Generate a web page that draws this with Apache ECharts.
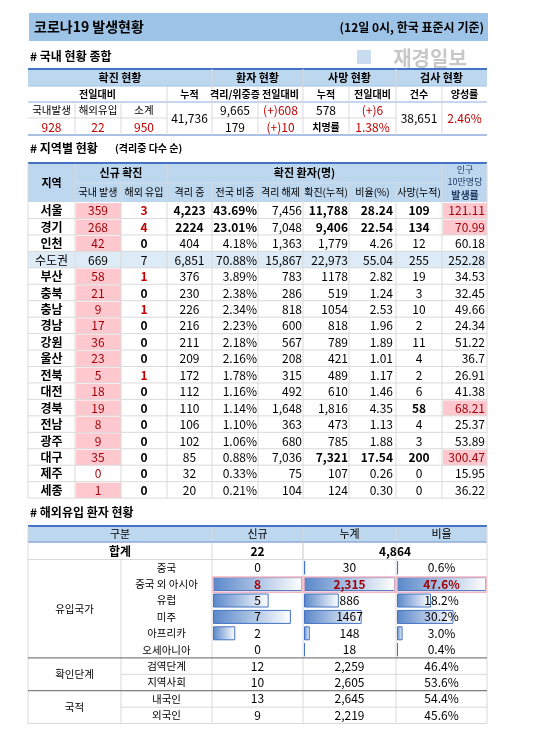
<!DOCTYPE html>
<html><head><meta charset="utf-8">
<script src="https://cdn.jsdelivr.net/npm/echarts@6/dist/echarts.min.js"></script>
<style>html,body{margin:0;padding:0;background:#fff}#c{width:548px;height:735px}</style>
</head><body><div id="c"></div>
<script>
// ---- Table 1 data ----
const t1Labels = ['국내발생','해외유입','소계'];
const t1New = ['928','22','950'];
const t1Total = '41,736';
const t1Iso = ['9,665','179'];
const t1IsoDelta = ['(+)608','(+)10'];
const t1Deaths = '578', t1DeathDelta = '(+)6', t1Fatal = '1.38%';
const t1Tests = '38,651', t1Positive = '2.46%';
// ---- Table 2 data ----
const regions = ['서울','경기','인천','수도권','부산','충북','충남','경남','강원','울산','전북','대전','경북','전남','광주','대구','제주','세종'];
const newDomestic = [359,268,42,669,58,21,9,17,36,23,5,18,19,8,9,35,0,1];
const newImported = [3,4,0,7,1,0,1,0,0,0,1,0,0,0,0,0,0,0];
const isolating = ['4,223','2224','404','6,851','376','230','226','216','211','209','172','112','110','106','102','85','32','20'];
const shareNat = ['43.69%','23.01%','4.18%','70.88%','3.89%','2.38%','2.34%','2.23%','2.18%','2.16%','1.78%','1.16%','1.14%','1.10%','1.06%','0.88%','0.33%','0.21%'];
const released = ['7,456','7,048','1,363','15,867','783','286','818','600','567','208','315','492','1,648','363','680','7,036','75','104'];
const cumulative = ['11,788','9,406','1,779','22,973','1178','519','1054','818','789','421','489','610','1,816','473','785','7,321','107','124'];
const ratioPct = ['28.24','22.54','4.26','55.04','2.82','1.24','2.53','1.96','1.89','1.01','1.17','1.46','4.35','1.13','1.88','17.54','0.26','0.30'];
const deathsCum = ['109','134','12','255','19','3','10','2','11','4','2','6','58','4','3','200','0','0'];
const per100k = ['121.11','70.99','60.18','252.28','34.53','32.45','49.66','24.34','51.22','36.7','26.91','41.38','68.21','25.37','53.89','300.47','15.95','36.22'];
const per100kHi = [true,true,false,false,false,false,false,false,false,false,false,false,true,false,false,true,false,false];
// ---- Table 3 data ----
const groups = ['유입국가','확인단계','국적'];
const groupSizes = [6,2,2];
const importCats = ['중국','중국 외 아시아','유럽','미주','아프리카','오세아니아','검역단계','지역사회','내국인','외국인'];
const importNew = [0,8,5,7,2,0,12,10,13,9];
const importCumLabels = ['30','2,315','886','1467','148','18','2,259','2,605','2,645','2,219'];
const importCum = [30,2315,886,1467,148,18,2259,2605,2645,2219];
const importRatio = [0.6,47.6,18.2,30.2,3.0,0.4,46.4,53.6,54.4,45.6];
const importTotalNew = '22', importTotalCum = '4,864';

const F = "'Noto Sans CJK KR','Noto Sans',sans-serif";
const G = [];
const BLUE='#bdd7ee', LINE='#d9d9d9', DARK='#4472c4', RED='#c00000', PINKBG='#ffc7ce', PINKTX='#9c0006';
function rect(x,y,w,h,fill,z){G.push({type:'rect',z:z||1,shape:{x,y,width:w,height:h},style:{fill}});}
function brect(x,y,w,h,stroke,lw,z){G.push({type:'rect',z:z||60,shape:{x,y,width:w,height:h},style:{fill:null,stroke,lineWidth:lw}});}
function line(x1,y1,x2,y2,c,w,z){G.push({type:'line',z:z||50,shape:{x1,y1,x2,y2},style:{stroke:c,lineWidth:w||1}});}
function text(x,y,s,o){o=o||{};G.push({type:'text',z:100,x,y,style:{text:s,fill:o.color||'#000',font:(o.bold?'bold ':'')+(o.size||11)+'px '+F,textAlign:o.align||'center',textVerticalAlign:'middle'}});}

// Title
rect(29,13,459,28,'#9dc3e6');
text(34,27,'코로나19 발생현황',{bold:true,size:14,align:'left'});
text(484,27,'(12일 0시, 한국 표준시 기준)',{bold:true,size:12,align:'right'});
text(30,56,'# 국내 현황 종합',{bold:true,size:12,align:'left'});
rect(357,50,14,14,'#c9dbef');
text(430,58,'재경일보',{bold:true,size:20,color:'#c8c8c8'});

// Table 1
const c1=[28,75,121,167,212,258,303,349,396,442,487];
const r1=[69,86,102,118,135];
rect(28,69,459,17,BLUE);
line(28,69,487,69,DARK,2);
line(28,86,487,86,'#9dc3e6',1);line(28,102,487,102,'#8eaadb',1);line(28,135,487,135,'#8eaadb',1.5);
[75,121].forEach(x=>line(x,102,x,135,LINE));
[167].forEach(x=>line(x,86,x,135,LINE));
[212,303,396].forEach(x=>line(x,69,x,135,LINE));
[258,349,442].forEach(x=>line(x,86,x,135,LINE));
line(28,118,167,118,LINE);line(212,118,396,118,LINE);
const mid=(a,b)=>(a+b)/2;
text(mid(28,212),78,'확진 현황',{bold:true});text(mid(212,303),78,'환자 현황',{bold:true});
text(mid(303,396),78,'사망 현황',{bold:true});text(mid(396,487),78,'검사 현황',{bold:true});
text(mid(28,167),94,'전일대비',{bold:true,size:10});
['누적','격리/위중증','전일대비','누적','전일대비','건수','양성률'].forEach((s,i)=>text(mid(c1[i+3],c1[i+4]),94,s,{bold:true,size:10}));
t1Labels.forEach((s,i)=>{text(mid(c1[i],c1[i+1]),110,s,{size:10.5});text(mid(c1[i],c1[i+1]),127,t1New[i],{color:RED,size:12});});
text(mid(167,212),118,t1Total,{size:12});
t1Iso.forEach((s,i)=>{text(mid(212,258),110+i*17,s,{size:12});text(mid(258,303),110+i*17,t1IsoDelta[i],{size:12,color:RED});});
text(mid(303,349),110,t1Deaths,{size:12});text(mid(349,396),110,t1DeathDelta,{size:12,color:RED});
text(mid(303,349),127,'치명률',{size:10,bold:true});text(mid(349,396),127,t1Fatal,{size:12,color:RED});
text(mid(396,442),118,t1Tests,{size:12});text(mid(442,487),118,t1Positive,{size:12,color:RED});

// Table 2
text(30,148,'# 지역별 현황',{bold:true,size:12,align:'left'});
text(115,148,'(격리중 다수 순)',{bold:true,size:10,align:'left'});
const c2=c1, y2=202, h2=16.45;
rect(28,163,459,39,BLUE);
line(28,163,487,163,DARK,2);
text(mid(28,75),183,'지역',{bold:true});
text(mid(75,167),173,'신규 확진',{bold:true});
text(mid(167,442),173,'확진 환자(명)',{bold:true});
['국내 발생','해외 유입','격리 중','전국 비중','격리 해제','확진(누적)','비율(%)','사망(누적)'].forEach((s,i)=>text(mid(c2[i+1],c2[i+2]),192,s,{size:10}));
text(465,170,'인구',{size:9,color:'#1f3864'});text(465,182,'10만명당',{size:9,color:'#1f3864'});text(465,195,'발생률',{size:10,bold:true,color:'#1f3864'});
line(75,183,442,183,'#d0e0f0');
regions.forEach((r,i)=>{
  const y=y2+i*h2, cy=y+h2/2+0.5;
  if(r==='수도권') rect(28,y,459,h2,'#ddebf7');
  if(newDomestic[i]>0 && r!=='수도권') rect(76,y+1,45,h2-1,PINKBG);
  if(per100kHi[i]) rect(443,y+1,44,h2-1,PINKBG);
  line(28,y+h2,487,y+h2,LINE,1,40);
  const isCap=r==='수도권';
  text(mid(28,75),cy,r,{bold:!isCap,size:12});
  text(mid(75,121),cy,String(newDomestic[i]),{size:12,color:isCap?'#000':PINKTX});
  text(mid(121,167),cy,String(newImported[i]),{size:12,bold:!isCap,color:(!isCap&&newImported[i]>0)?RED:'#000'});
  const big=i<2, dg=r==='대구';
  text(mid(167,212),cy,isolating[i],{size:12,bold:big});
  text(257,cy,shareNat[i],{size:12,bold:big,align:'right'});
  text(302,cy,released[i],{size:12,align:'right'});
  text(348,cy,cumulative[i],{size:12,bold:big||dg,align:'right'});
  text(393,cy,ratioPct[i],{size:12,bold:big||dg,align:'right'});
  text(mid(396,442),cy,deathsCum[i],{size:12,bold:big||dg||r==='경북'});
  text(485,cy,per100k[i],{size:12,align:'right',color:per100kHi[i]?PINKTX:'#000'});
});
const yEnd2=y2+regions.length*h2;
c2.slice(1,-1).forEach(x=>line(x,x===75||x===167||x===442?163:183,x,yEnd2,LINE,1,40));
line(28,163,28,yEnd2,LINE);line(487,163,487,yEnd2,LINE);

// Table 3
text(30,512,'# 해외유입 환자 현황',{bold:true,size:12,align:'left'});
rect(28,526,459,16,BLUE);
line(28,526,487,526,DARK,2);line(28,542,487,542,'#8eaadb',1.5);
text(mid(28,212),534,'구분');text(mid(212,303),534,'신규');text(mid(303,396),534,'누계');text(mid(396,487),534,'비율');
text(mid(28,212),551,'합계',{bold:true,size:12});text(mid(212,303),551,importTotalNew,{bold:true,size:12});text(mid(303,487),551,importTotalCum,{bold:true,size:12});
const y3=559.5, h3=16.4;
line(28,y3,487,y3,LINE);
let gi=0;
groups.forEach((g,k)=>{
  const top=y3+gi*h3, bot=top+groupSizes[k]*h3;
  text(mid(28,121),mid(top,bot),g,{size:10.5});
  if(k<groups.length-1) line(28,bot,487,bot,'#808080',1.2,55);
  gi+=groupSizes[k];
});
importCats.forEach((s,i)=>{
  const y=y3+i*h3, cy=y+h3/2;
  const hi=i===1;
  text(mid(121,212),cy,s,{size:10.5});
  text(mid(212,303),cy,String(importNew[i]),{size:12,bold:hi,color:hi?PINKTX:'#000'});
  text(mid(303,396),cy,importCumLabels[i],{size:12,bold:hi,color:hi?PINKTX:'#000'});
  text(mid(396,487),cy,importRatio[i].toFixed(1)+'%',{size:12,bold:hi,color:hi?PINKTX:'#000'});
  if(i>=groupSizes[0]) line(121,y+h3,487,y+h3,LINE,1,40);
  if(hi){[[212,303],[303,396],[396,487]].forEach(([a,b])=>brect(a+1,y+1,b-a-2,h3-1,'#f4b6c2',1.5));}
});
const yEnd3=y3+importCats.length*h3;
[121,212,303,396].forEach(x=>line(x,x===121?y3:526,x,yEnd3,LINE,1,40));
line(303,542,303,559,LINE);
line(28,526,28,yEnd3,LINE);line(487,526,487,yEnd3,LINE);line(28,yEnd3,487,yEnd3,LINE);

const nBar=groupSizes[0];
const barCats=importCats.slice(0,nBar);
const grad=new echarts.graphic.LinearGradient(0,0,1,0,[{offset:0,color:'#5a87c9'},{offset:1,color:'#ffffff'}]);
const gridDefs=[[213,89,importNew],[304,91,importCum],[397,89,importRatio]];
const grids=[],xA=[],yA=[],series=[];
gridDefs.forEach(([l,w,arr],k)=>{
  const vals=arr.slice(0,nBar);
  grids.push({left:l,top:y3,width:w,height:nBar*h3});
  xA.push({type:'value',gridIndex:k,min:0,max:Math.max(...vals),show:false});
  yA.push({type:'category',gridIndex:k,data:barCats,inverse:true,show:false});
  series.push({type:'bar',xAxisIndex:k,yAxisIndex:k,barWidth:14,barMinHeight:1,silent:true,z:10,
    data:vals.map(v=>v>0?v:null),itemStyle:{color:grad,borderColor:'#4472c4',borderWidth:1}});
});

const chart=echarts.init(document.getElementById('c'),null,{renderer:'canvas'});
chart.setOption({animation:false,backgroundColor:'#fff',grid:grids,xAxis:xA,yAxis:yA,series,graphic:{elements:G}});
</script></body></html>
